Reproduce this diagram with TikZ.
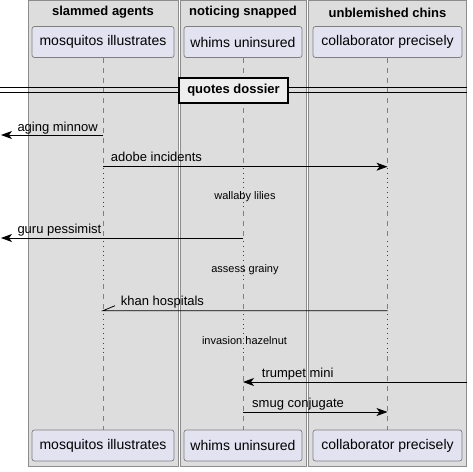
\documentclass[tikz,border=0pt]{standalone}
\usepackage{fontspec}
\setmainfont{Liberation Sans}
\usetikzlibrary{arrows.meta}

\definecolor{boxfill}{HTML}{DDDDDD}
\definecolor{boxdraw}{HTML}{8C8C8C}
\definecolor{partfill}{HTML}{E2E2F0}
\definecolor{partdraw}{HTML}{7F7F7F}
\definecolor{lifedraw}{HTML}{7F7F7F}
\definecolor{delaydraw}{HTML}{8B1A3A}
\definecolor{dividerfill}{HTML}{EEEEEE}

\tikzset{
  swimbox/.style={draw=boxdraw,fill=boxfill,line width=0.8pt},
  boxtitle/.style={font=\bfseries\fontsize{13}{15}\selectfont,inner sep=0pt},
  party/.style={draw=partdraw,fill=partfill,rounded corners=2.5pt,line width=0.7pt,
    minimum height=31pt,inner sep=0pt,font=\fontsize{14}{16}\selectfont},
  lifeline/.style={draw=lifedraw,line width=0.7pt,dash pattern=on 5pt off 5pt},
  delayline/.style={draw=delaydraw,line width=0.8pt,dash pattern=on 0.8pt off 4pt},
  msgline/.style={line width=0.8pt},
  msgtip/.style={msgline,-{Stealth[length=11pt,width=8pt,inset=3pt]}},
  msglabel/.style={anchor=base west,inner sep=0pt,font=\fontsize{13}{15}\selectfont},
  delaylabel/.style={anchor=base,inner sep=0pt,font=\fontsize{11}{13}\selectfont},
  divider/.style={draw=black,fill=dividerfill,line width=1.5pt,minimum width=109pt,
    minimum height=25pt,inner sep=0pt,font=\bfseries\fontsize{13}{15}\selectfont},
}

\begin{document}
\begin{tikzpicture}[x=1pt,y=-1pt]
  \useasboundingbox (0,0) rectangle (473,471);

  % Boxes round the participants
  \draw[swimbox] (28,0.5) rectangle (178,466);
  \draw[swimbox] (180,0.5) rectangle (306.5,466);
  \draw[swimbox] (308.5,0.5) rectangle (466.5,466);
  \node[boxtitle] (titleA) at (103,12.5) {slammed agents};
  \node[boxtitle] (titleB) at (243,12.5) {noticing snapped};
  \node[boxtitle] (titleC) at (387.5,12.5) {unblemished chins};

  % Participants, top and bottom
  \node[party,minimum width=142pt] (mosTop) at (103,42) {mosquitos illustrates};
  \node[party,minimum width=118pt] (whiTop) at (243,42) {whims uninsured};
  \node[party,minimum width=149pt] (colTop) at (387.5,42) {collaborator precisely};
  \node[party,minimum width=142pt] (mosBot) at (103,445.5) {mosquitos illustrates};
  \node[party,minimum width=118pt] (whiBot) at (243,445.5) {whims uninsured};
  \node[party,minimum width=149pt] (colBot) at (387.5,445.5) {collaborator precisely};

  % Lifelines, dotted where the delays are
  \foreach \p in {mos,whi,col}{
    \draw[lifeline] (\p Top.south) -- (\p Top.south |- 0,167)
                    (\p Top.south |- 0,211) -- (\p Top.south |- 0,240)
                    (\p Top.south |- 0,284) -- (\p Top.south |- 0,313)
                    (\p Top.south |- 0,356) -- (\p Bot.north);
    \draw[delayline] (\p Top.south |- 0,168) -- (\p Top.south |- 0,211)
                     (\p Top.south |- 0,241) -- (\p Top.south |- 0,284)
                     (\p Top.south |- 0,314) -- (\p Top.south |- 0,356);
  }

  % Divider
  \draw[line width=0.8pt] (0,87) -- (467,87) (0,92) -- (467,92);
  \node[divider] (dossier) at (233.5,90.5) {quotes dossier};

  % Message aging minnow
  \coordinate (agingFrom) at (mosTop |- 0,135);
  \coordinate (agingTo) at (1,135);
  \draw[msgtip] (agingFrom) -- (agingTo);
  \node[msglabel] (agingLabel) at (17.3,131) {aging minnow};

  % Message adobe incidents
  \coordinate (adobeFrom) at (mosTop |- 0,166.7);
  \coordinate (adobeTo) at (colTop |- 0,166.7);
  \draw[msgtip] (adobeFrom) -- (adobeTo);
  \node[msglabel] (adobeLabel) at (110.7,161) {adobe incidents};

  % Delay wallaby lilies
  \node[delaylabel] (wallaby) at (245,199) {wallaby lilies};

  % Message guru pessimist
  \coordinate (guruFrom) at (whiTop |- 0,238);
  \coordinate (guruTo) at (1,238);
  \draw[msgtip] (guruFrom) -- (guruTo);
  \node[msglabel] (guruLabel) at (17.3,233) {guru pessimist};

  % Delay assess grainy
  \node[delaylabel] (assess) at (245,272) {assess grainy};

  % Message khan hospitals, half arrow head
  \coordinate (khanFrom) at (colTop |- 0,310.7);
  \coordinate (khanTo) at (mosTop |- 0,310.7);
  \draw[msgline] (khanFrom) -- (khanTo) -- ++(12,-5);
  \node[msglabel] (khanLabel) at (120.7,305.7) {khan hospitals};

  % Delay invasion hazelnut
  \node[delaylabel] (invasion) at (244.5,344) {invasion hazelnut};

  % Message trumpet mini
  \coordinate (trumpetFrom) at (467,382);
  \coordinate (trumpetTo) at (whiTop |- 0,382);
  \draw[msgtip] (trumpetFrom) -- (trumpetTo);
  \node[msglabel] (trumpetLabel) at (261.7,377) {trumpet mini};

  % Message smug conjugate
  \coordinate (smugFrom) at (whiTop |- 0,412);
  \coordinate (smugTo) at (colTop |- 0,412);
  \draw[msgtip] (smugFrom) -- (smugTo);
  \node[msglabel] (smugLabel) at (252,407) {smug conjugate};
\end{tikzpicture}
\end{document}
